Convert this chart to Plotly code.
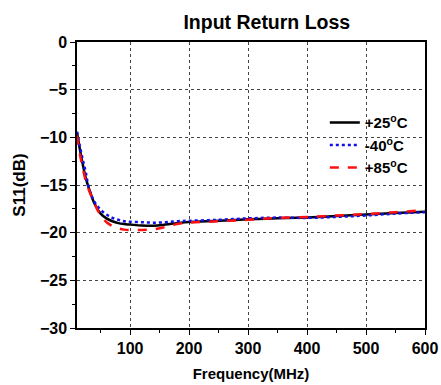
import plotly.graph_objects as go

freq = [10, 15, 20, 25, 30, 40, 50, 60, 70, 80, 90, 100, 120, 140, 160, 180, 200,
        250, 300, 350, 400, 450, 500, 550, 600]
s11_p25 = [-9.5, -11.3, -12.9, -14.3, -15.3, -17.0, -18.0, -18.5, -18.8, -19.0, -19.1, -19.15,
           -19.25, -19.27, -19.15, -19.0, -18.88, -18.75, -18.6, -18.5, -18.4, -18.25, -18.1,
           -17.95, -17.8]
s11_m40 = [-9.4, -11.0, -12.4, -13.7, -15.3, -16.8, -17.6, -18.1, -18.45, -18.65, -18.8, -18.85,
           -18.9, -18.95, -18.9, -18.8, -18.75, -18.65, -18.5, -18.42, -18.45, -18.35, -18.2,
           -18.0, -17.85]
s11_p85 = [-9.8, -11.8, -13.3, -14.6, -15.5, -17.0, -18.2, -18.9, -19.3, -19.55, -19.68, -19.72,
           -19.72, -19.65, -19.4, -19.1, -18.95, -18.8, -18.65, -18.45, -18.35, -18.2, -18.05,
           -17.85, -17.65]
names = ["+25<sup>o</sup>C", "-40<sup>o</sup>C", "+85<sup>o</sup>C"]
x_ticks = [100, 200, 300, 400, 500, 600]
y_ticks = [0, -5, -10, -15, -20, -25, -30]

FONT = "Liberation Sans"

fig = go.Figure()
fig.add_trace(go.Scatter(x=freq, y=s11_p25, mode="lines", name=names[0],
                         line=dict(color="black", width=2.5, shape="spline")))
fig.add_trace(go.Scatter(x=freq, y=s11_m40, mode="lines", name=names[1],
                         line=dict(color="#1010ee", width=2.5, dash="dot", shape="spline")))
fig.add_trace(go.Scatter(x=freq, y=s11_p85, mode="lines", name=names[2],
                         line=dict(color="#ff1010", width=2.5, dash="dash", shape="spline")))

fig.update_layout(
    width=441, height=385,
    margin=dict(l=77, r=16, t=42, b=57, autoexpand=False),
    paper_bgcolor="white", plot_bgcolor="white",
    font=dict(family=FONT, color="black"),
    title=dict(text="Input Return Loss", x=0.605, xanchor="center",
               y=0.943, yanchor="middle", font=dict(size=19.5, family=FONT, weight="bold")),
    legend=dict(x=0.965, y=0.775, xanchor="right", yanchor="top",
                bgcolor="rgba(0,0,0,0)", font=dict(size=15, family=FONT, weight="bold"),
                tracegroupgap=0, itemwidth=30),
    showlegend=True,
)
fig.update_xaxes(
    range=[10, 600], tickvals=x_ticks, automargin=False,
    showline=True, mirror=True, linecolor="black", linewidth=1.5,
    ticks="outside", ticklen=5, tickcolor="black", tickwidth=1,
    minor=dict(dtick=50, tick0=0, ticks="outside", ticklen=3, tickcolor="black", showgrid=False),
    showgrid=True, gridcolor="#444", griddash="dot", gridwidth=1,
    zeroline=False, tickfont=dict(size=16, family=FONT, weight="bold", color="black"),
    title=dict(text="Frequency(MHz)", font=dict(size=15, family=FONT, weight="bold"), standoff=13),
)
fig.update_yaxes(
    range=[-30, 0], tickvals=y_ticks, automargin=False,
    showline=True, mirror=True, linecolor="black", linewidth=1.5,
    ticks="outside", ticklen=5, tickcolor="black", tickwidth=1,
    minor=dict(dtick=2.5, ticks="outside", ticklen=3, tickcolor="black", showgrid=False),
    showgrid=True, gridcolor="#444", griddash="dot", gridwidth=1,
    zeroline=False, tickfont=dict(size=16, family=FONT, weight="bold", color="black"),
    title=dict(text="S11(dB)", font=dict(size=17, family=FONT, weight="bold"), standoff=10),
)

fig.write_html("out.html")
